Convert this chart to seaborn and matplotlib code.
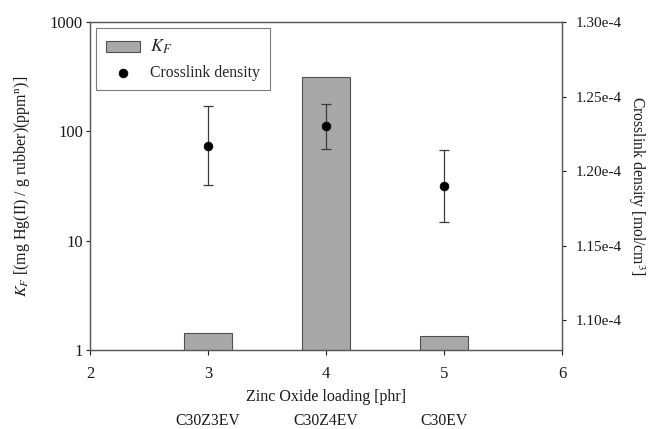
import matplotlib
matplotlib.use("Agg")
import matplotlib.pyplot as plt
import seaborn as sns
import pandas as pd
import numpy as np

# data
zno_loading = [3, 4, 5]
sample_names = ["C30Z3EV", "C30Z4EV", "C30EV"]
kf_values = [1.42, 316, 1.33]
crosslink = [1.217e-4, 1.230e-4, 1.190e-4]
crosslink_err = [0.0265e-4, 0.015e-4, 0.0243e-4]

sns.set_style("ticks")
plt.rcParams['font.family'] = ['Liberation Serif', 'DejaVu Serif']
plt.rcParams['mathtext.fontset'] = 'stix'

df = pd.DataFrame({"loading": zno_loading, "kf": kf_values,
                   "cld": crosslink, "err": crosslink_err})

txt = '#1a1a1a'
fig = plt.figure(figsize=(6.53, 4.29), dpi=100)
ax = fig.add_axes([0.1378, 0.1841, 0.7228, 0.7646])

ax.set_yscale('log')
sns.barplot(data=df, x="loading", y="kf", native_scale=True, width=0.4,
            color='#a8a8a8', edgecolor='#505050', linewidth=0.8,
            saturation=1, ax=ax, label=r'$K_F$', zorder=2)
ax.set_xlim(2, 6)
ax.set_ylim(1, 1000)
ax.set_xticks([2, 3, 4, 5, 6])
ax.set_xticklabels(['2', '3', '4', '5', '6'])
ax.set_yticks([1, 10, 100, 1000])
ax.set_yticklabels(['1', '10', '100', '1000'])
ax.minorticks_off()
ax.set_xlabel('Zinc Oxide loading [phr]', fontsize=11.5, color=txt)
ax.xaxis.set_label_coords(0.5, -0.143)
ax.xaxis.label.set_va('center')
ax.set_ylabel(r'$K_F$ [(mg Hg(II) / g rubber)(ppm$^{\rm n}$)]', fontsize=11.5, color=txt)
ax.yaxis.set_label_coords(-0.145, 0.5)
ax.yaxis.label.set_va('center')

ax2 = ax.twinx()
ax2.errorbar(df["loading"], df["cld"], yerr=df["err"], fmt='none',
             ecolor='#3a3a3a', elinewidth=0.9, capsize=3.6, capthick=0.9, zorder=3)
sns.scatterplot(data=df, x="loading", y="cld", color='black', s=40,
                edgecolor='black', ax=ax2, label='Crosslink density', zorder=4)
ax2.set_ylim(1.08e-4, 1.30e-4)
ticks2 = [1.10e-4, 1.15e-4, 1.20e-4, 1.25e-4, 1.30e-4]
ax2.set_yticks(ticks2)
ax2.set_yticklabels(['1.10e-4', '1.15e-4', '1.20e-4', '1.25e-4', '1.30e-4'])
ax2.set_ylabel(r'Crosslink density [mol/cm$^3$]', fontsize=11.3, color=txt,
               rotation=270)
ax2.yaxis.set_label_coords(1.157, 0.5)
ax2.yaxis.label.set_va('center')
ax2.set_xlabel('')

ax.tick_params(axis='y', labelsize=12, colors=txt, direction='out', length=3, width=0.8, pad=2)
ax.tick_params(axis='x', labelsize=12, colors=txt, direction='out', length=3.5, width=0.8, pad=8)
ax2.tick_params(axis='y', labelsize=11, colors=txt, direction='out', length=3, width=0.8, pad=7)
for a in (ax, ax2):
    for s in a.spines.values():
        s.set_color('#5a5a5a')
        s.set_linewidth(0.9)
        s.set_visible(True)

# sample names under the x axis
for xv, name in zip(zno_loading, sample_names):
    ax.text(xv, -0.216, name, transform=ax.get_xaxis_transform(),
            ha='center', va='center', fontsize=11.3, color=txt)

h1, l1 = ax.get_legend_handles_labels()
h2, l2 = ax2.get_legend_handles_labels()
if ax.get_legend():
    ax.get_legend().remove()
leg = ax2.legend(h1 + h2, l1 + l2, loc='upper left', fontsize=11.3,
                 frameon=True, fancybox=False, edgecolor='#5a5a5a',
                 borderpad=0.6, handlelength=2.2, handletextpad=0.65,
                 labelspacing=0.55, borderaxespad=0.4)
leg.get_frame().set_linewidth(0.8)
leg.get_texts()[0].set_fontsize(13)

fig.savefig("out.png", dpi=100)
